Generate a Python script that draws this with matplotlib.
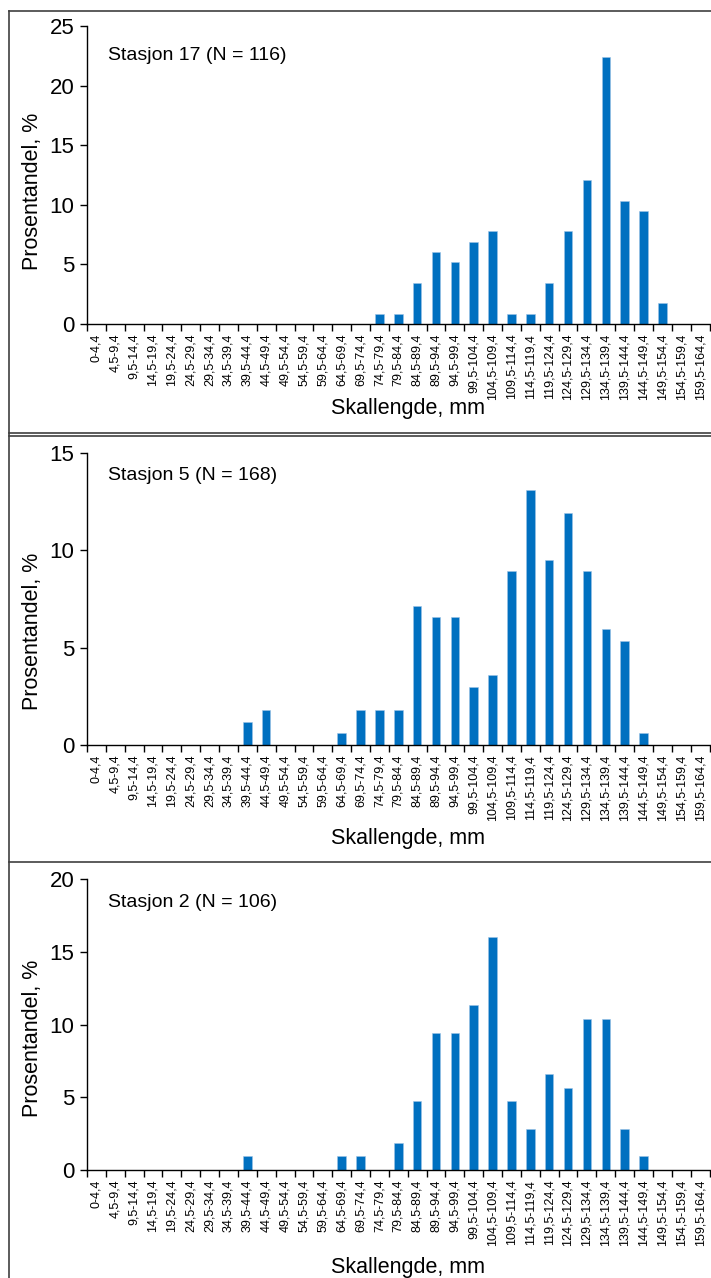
import matplotlib.pyplot as plt
from matplotlib.lines import Line2D

plt.rcParams['font.family'] = ['Liberation Sans', 'DejaVu Sans']

# length classes (mm)
klasser = ['0-4,4', '4,5-9,4', '9,5-14,4', '14,5-19,4', '19,5-24,4', '24,5-29,4',
           '29,5-34,4', '34,5-39,4', '39,5-44,4', '44,5-49,4', '49,5-54,4', '54,5-59,4',
           '59,5-64,4', '64,5-69,4', '69,5-74,4', '74,5-79,4', '79,5-84,4', '84,5-89,4',
           '89,5-94,4', '94,5-99,4', '99,5-104,4', '104,5-109,4', '109,5-114,4',
           '114,5-119,4', '119,5-124,4', '124,5-129,4', '129,5-134,4', '134,5-139,4',
           '139,5-144,4', '144,5-149,4', '149,5-154,4', '154,5-159,4', '159,5-164,4']

# percent per class
stasjon17 = [0, 0, 0, 0, 0, 0, 0, 0, 0, 0, 0, 0, 0, 0, 0, 0.86, 0.86, 3.45, 6.03, 5.17,
             6.90, 7.76, 0.86, 0.86, 3.45, 7.76, 12.07, 22.41, 10.34, 9.48, 1.72, 0, 0]
stasjon5 = [0, 0, 0, 0, 0, 0, 0, 0, 1.19, 1.79, 0, 0, 0, 0.60, 1.79, 1.79, 1.79, 7.14,
            6.55, 6.55, 2.98, 3.57, 8.93, 13.10, 9.52, 11.90, 8.93, 5.95, 5.36, 0.60, 0, 0, 0]
stasjon2 = [0, 0, 0, 0, 0, 0, 0, 0, 0.94, 0, 0, 0, 0, 0.94, 0.94, 0, 1.89, 4.72, 9.43,
            9.43, 11.32, 16.04, 4.72, 2.83, 6.60, 5.66, 10.38, 10.38, 2.83, 0.94, 0, 0, 0]

# title, values, y max, axes box, title y, ylabel y, xlabel y (axes coords)
paneler = [
    ('Stasjon 17 (N = 116)', stasjon17, 25, [0.1224, 0.7465, 0.8755, 0.2332], 0.90, 0.446, -0.248),
    ('Stasjon 5 (N = 168)', stasjon5, 15, [0.1224, 0.4171, 0.8755, 0.2285], 0.921, 0.39, -0.284),
    ('Stasjon 2 (N = 106)', stasjon2, 20, [0.1224, 0.0845, 0.8755, 0.2277], 0.918, 0.454, -0.299),
]

fig = plt.figure(figsize=(7.11, 12.78), dpi=100)
blue = '#0070C0'

for tittel, verdier, ymax, pos, ty, yly, xly in paneler:
    ax = fig.add_axes(pos)
    x = list(range(len(klasser)))
    ax.bar(x, verdier, width=0.45, color=blue, edgecolor='#9DC3E6', linewidth=0.4)
    ax.set_xlim(-0.5, len(klasser) - 0.5)
    ax.set_ylim(0, ymax)
    ax.set_yticks(range(0, ymax + 1, 5))
    ax.tick_params(axis='y', labelsize=16, length=5, width=1, direction='out', pad=4)
    # category ticks between the bars, labels at the centre
    ax.set_xticks([i - 0.5 for i in range(len(klasser) + 1)])
    ax.set_xticklabels([])
    ax.set_xticks(x, minor=True)
    ax.set_xticklabels(klasser, minor=True, rotation=90, fontsize=9)
    ax.tick_params(axis='x', which='major', length=5, width=1, direction='out')
    ax.tick_params(axis='x', which='minor', length=0, pad=7)
    for s in ['top', 'right']:
        ax.spines[s].set_visible(False)
    ax.spines['left'].set_linewidth(1)
    ax.spines['bottom'].set_linewidth(1)
    ax.set_ylabel('Prosentandel, %', fontsize=15.5)
    ax.yaxis.set_label_coords(-0.0707, yly)
    ax.set_xlabel('Skallengde, mm', fontsize=15.5)
    ax.xaxis.set_label_coords(0.516, xly)
    ax.text(0.034, ty, tittel, transform=ax.transAxes, fontsize=14, va='center', ha='left')

# panel borders
for y in [1 - 10.5 / 1278, 1 - 433.5 / 1278, 1 - 436 / 1278, 1 - 861.5 / 1278]:
    fig.add_artist(Line2D([9 / 711, 1], [y, y], color='#404040', linewidth=1.2))
fig.add_artist(Line2D([9 / 711, 9 / 711], [0, 1 - 10.5 / 1278], color='#404040', linewidth=1.2))

plt.savefig('out.png', dpi=100)
